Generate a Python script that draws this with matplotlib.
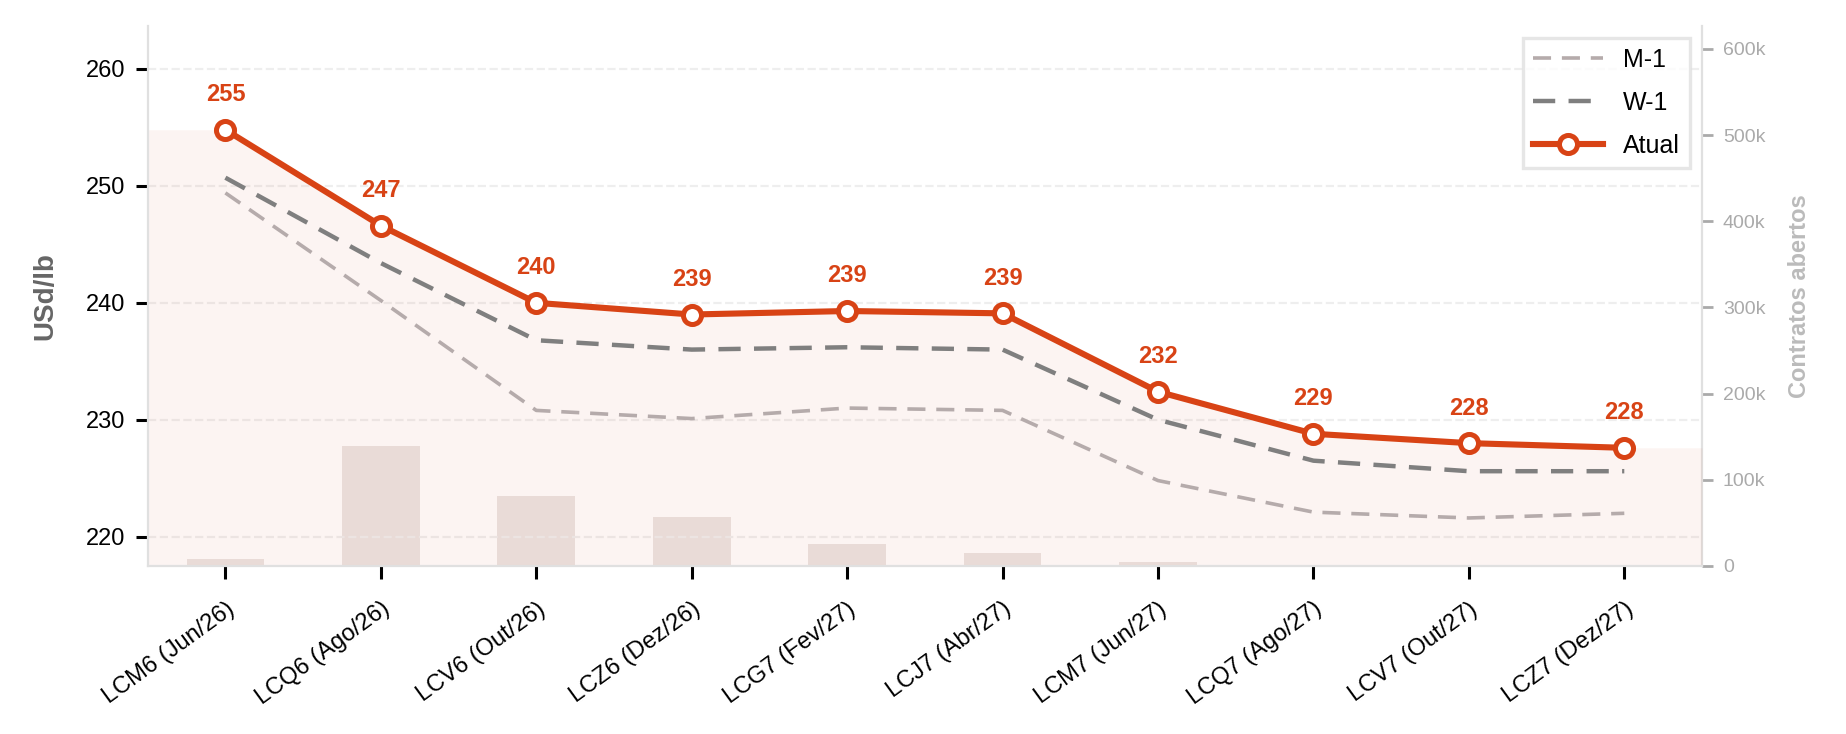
import matplotlib
matplotlib.use("Agg")
import matplotlib.pyplot as plt
from matplotlib.ticker import FuncFormatter

plt.rcParams["font.family"] = ["Liberation Sans", "DejaVu Sans"]

contracts = ["LCM6 (Jun/26)", "LCQ6 (Ago/26)", "LCV6 (Out/26)", "LCZ6 (Dez/26)",
             "LCG7 (Fev/27)", "LCJ7 (Abr/27)", "LCM7 (Jun/27)", "LCQ7 (Ago/27)",
             "LCV7 (Out/27)", "LCZ7 (Dez/27)"]
atual = [254.8, 246.6, 240.0, 239.0, 239.3, 239.1, 232.4, 228.8, 228.0, 227.6]
w1 = [250.7, 243.4, 236.8, 236.0, 236.2, 236.0, 230.0, 226.5, 225.6, 225.6]
m1 = [249.4, 240.2, 230.8, 230.1, 231.0, 230.8, 224.8, 222.1, 221.6, 222.0]
open_int = [8000, 139000, 81000, 57000, 26000, 15000, 4000, 800, 500, 300]

red = "#d84315"
x = list(range(len(contracts)))

fig, ax = plt.subplots(figsize=(9.23, 3.67), dpi=200)
fig.subplots_adjust(left=0.080, right=0.922, top=0.965, bottom=0.229)
ax2 = ax.twinx()

# open interest bars behind the price lines
ax2.bar(x, open_int, width=0.5, color="#ebe4e3", zorder=1)
ax2.set_ylim(0, 627000)
ax2.set_yticks([0, 100000, 200000, 300000, 400000, 500000, 600000])
ax2.yaxis.set_major_formatter(FuncFormatter(lambda v, p: "0" if v == 0 else f"{int(v/1000)}k"))
ax2.tick_params(axis="y", colors="#aaaaaa", labelsize=7, length=4, width=1)
ax2.set_ylabel("Contratos abertos", color="#bbbbbb", fontsize=8.5, fontweight="bold",
               labelpad=8)
for s in ["top", "left", "bottom"]:
    ax2.spines[s].set_visible(False)
ax2.spines["right"].set_color("#e0e0e0")

ax.set_zorder(ax2.get_zorder() + 1)
ax.patch.set_visible(False)

xf = [-0.5] + x + [len(x) - 0.5]
yf = [atual[0]] + atual + [atual[-1]]
ax.fill_between(xf, yf, 200, color=red, alpha=0.055, linewidth=0, zorder=1)

ax.plot(x, m1, color="#b5abab", lw=1.3, ls=(0, (5, 3)), label="M-1", zorder=3)
ax.plot(x, w1, color="#7f7f7f", lw=1.6, ls=(0, (5, 3)), label="W-1", zorder=3)
ax.plot(x, atual, color=red, lw=2.2, marker="o", ms=6.5, mfc="white", mec=red,
        mew=1.8, label="Atual", zorder=4)

for xi, v in zip(x, atual):
    ax.annotate(f"{v:.0f}", (xi, v), xytext=(0, 8.5), textcoords="offset points",
                ha="center", va="bottom", color=red, fontsize=8.5, fontweight="bold")

ax.set_xlim(-0.5, len(x) - 0.5)
ax.set_ylim(217.5, 263.7)
ax.set_yticks([220, 230, 240, 250, 260])
ax.set_xticks(x)
ax.set_xticklabels(contracts, rotation=36, ha="right", rotation_mode="anchor")
ax.tick_params(axis="y", labelsize=8.5, length=4.5, width=1.1)
ax.tick_params(axis="x", labelsize=8.5, length=4.5, width=1.1, pad=7)
ax.set_ylabel("USd/lb", color="#666666", fontsize=10, fontweight="bold", labelpad=10)

ax.grid(True, axis="y", color="#eeeeee", linestyle="--", linewidth=0.8)
ax.set_axisbelow(True)
for s in ["top", "right"]:
    ax.spines[s].set_visible(False)
ax.spines["left"].set_color("#e0e0e0")
ax.spines["bottom"].set_color("#e0e0e0")

leg = ax.legend(loc="upper right", fontsize=9, fancybox=False, frameon=True,
                edgecolor="#e0e0e0", handlelength=2.8, labelspacing=0.75)
leg.get_frame().set_linewidth(1.2)

fig.savefig("out.png", dpi=200)
